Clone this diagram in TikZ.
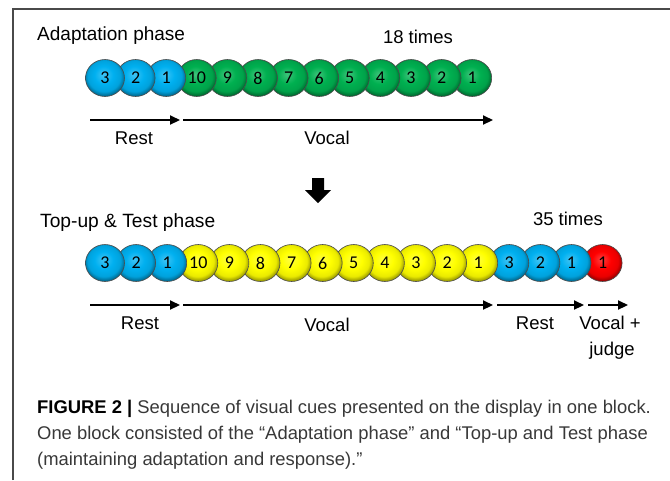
\documentclass[tikz,border=0pt]{standalone}
\usepackage{fontspec}
\setmainfont{Liberation Sans}
\newfontfamily\cuefont{Carlito}
\usetikzlibrary{shapes.geometric,arrows.meta}

\definecolor{cueblue}{HTML}{00B0F0}
\definecolor{cuegreen}{HTML}{00B050}
\definecolor{cueyellow}{HTML}{FFFF00}
\definecolor{cuered}{HTML}{FF0000}
\definecolor{framegray}{HTML}{4A4A4A}
\definecolor{captiongray}{HTML}{383838}
\colorlet{cuebase}{cueblue}

\pgfdeclareradialshading[cuebase]{cueball}{\pgfpoint{-2bp}{5bp}}{%
  color(0bp)=(cuebase!75!white); color(12bp)=(cuebase);
  color(21bp)=(cuebase!92!black); color(26bp)=(cuebase!62!black);
  color(50bp)=(cuebase!62!black)}

\tikzset{
  cue/.style={ellipse, draw=black!70, line width=0.6pt, minimum width=39pt,
    minimum height=37pt, inner sep=0pt,
    /utils/exec={\colorlet{cuebase}{#1}}, shading=cueball,
    font=\cuefont\fontsize{18}{20}\selectfont},
  timeline/.style={line width=2.2pt, -{Triangle[length=10pt,width=9pt]}},
  phasetext/.style={anchor=base, inner sep=0pt, font=\fontsize{18.5}{22}\selectfont}
}

\begin{document}
\begin{tikzpicture}[x=1pt, y=-1pt]
  \useasboundingbox (0,0) rectangle (670,480);

  % Frame
  \draw[framegray, line width=1.5pt] (13,480) -- (13,9) -- (670,9);

  % Adaptation phase
  \node[phasetext, anchor=base west, font=\fontsize{19}{22}\selectfont] (adapt) at (37,40) {Adaptation phase};
  \node[phasetext] (times1) at (418,43) {18 times};

  % Cues, drawn right to left so the left ones lie on top
  \foreach \i/\n/\c in {13/1/cuegreen, 12/2/cuegreen, 11/3/cuegreen, 10/4/cuegreen,
      9/5/cuegreen, 8/6/cuegreen, 7/7/cuegreen, 6/8/cuegreen, 5/9/cuegreen,
      4/10/cuegreen, 3/1/cueblue, 2/2/cueblue, 1/3/cueblue}
    \node[cue=\c] (a\i) at ({105+30.6*(\i-1)},78) {\n};

  % Time line
  \coordinate (a-rest-s) at (90,120);
  \coordinate (a-rest-e) at (180,120);
  \coordinate (a-vocal-s) at (183,120);
  \coordinate (a-vocal-e) at (493,120);
  \draw[timeline] (a-rest-s) -- (a-rest-e);
  \draw[timeline] (a-vocal-s) -- (a-vocal-e);
  \node[phasetext] (a-rest) at (134,144) {Rest};
  \node[phasetext] (a-vocal) at (327,144) {Vocal};

  % Down arrow
  \fill[black] (312,178) -- (324,178) -- (324,190) -- (331,190) -- (318,203)
    -- (305,190) -- (312,190) -- cycle;

  % Top-up & Test phase
  \node[phasetext, anchor=base west, font=\fontsize{19.2}{22}\selectfont] (topup) at (40,227) {Top-up \& Test phase};
  \node[phasetext] (times2) at (568,225) {35 times};

  \foreach \i/\n/\c in {17/1/cuered, 16/1/cueblue, 15/2/cueblue, 14/3/cueblue,
      13/1/cueyellow, 12/2/cueyellow, 11/3/cueyellow, 10/4/cueyellow,
      9/5/cueyellow, 8/6/cueyellow, 7/7/cueyellow, 6/8/cueyellow, 5/9/cueyellow,
      4/10/cueyellow, 3/1/cueblue, 2/2/cueblue, 1/3/cueblue}
    \node[cue=\c] (b\i) at ({105+31.1*(\i-1)},263) {\n};

  \coordinate (b-rest-s) at (90,305);
  \coordinate (b-rest-e) at (180,305);
  \coordinate (b-vocal-s) at (183,305);
  \coordinate (b-vocal-e) at (493,305);
  \coordinate (b-wait-s) at (497,305);
  \coordinate (b-wait-e) at (584,305);
  \coordinate (b-judge-s) at (588,305);
  \coordinate (b-judge-e) at (628,305);
  \draw[timeline] (b-rest-s) -- (b-rest-e);
  \draw[timeline] (b-vocal-s) -- (b-vocal-e);
  \draw[timeline] (b-wait-s) -- (b-wait-e);
  \draw[timeline] (b-judge-s) -- (b-judge-e);
  \node[phasetext] (b-rest) at (140,329) {Rest};
  \node[phasetext] (b-vocal) at (327,331) {Vocal};
  \node[phasetext] (b-wait) at (535,329) {Rest};
  \node[phasetext] (b-judge) at (610,329) {Vocal +};
  \node[phasetext] (b-judge2) at (612,355) {judge};

  % Caption
  \node[anchor=base west, inner sep=0pt, align=left, text=captiongray,
    font=\fontsize{18.4}{26}\selectfont] (caption) at (37,465)
    {\textcolor{black}{\textbf{FIGURE 2 |}} Sequence of visual cues presented on the display in one block.\\
     One block consisted of the ``Adaptation phase'' and ``Top-up and Test phase\\
     (maintaining adaptation and response).''};
\end{tikzpicture}
\end{document}
